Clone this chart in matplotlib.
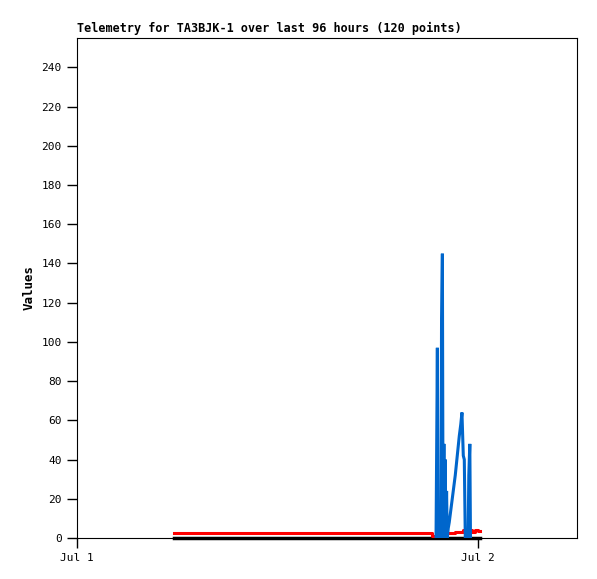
import numpy as np
import matplotlib
matplotlib.use("Agg")
import matplotlib.pyplot as plt

# time in hours since Jul 1 00:00
black_t = [5.8, 24.1]
black_v = [0, 0]

red_t = [5.8, 21.1, 21.2, 21.4, 21.5, 22.5, 22.6, 23.0, 23.1, 23.4, 23.6, 23.8, 24.0, 24.1]
red_v = [2.7, 2.7, 1.2, 1.2, 2.7, 2.7, 3.2, 3.2, 3.9, 3.9, 3.2, 3.9, 3.4, 3.4]

blue_t = [21.47, 21.51, 21.55, 21.59, 21.76, 21.80, 21.85, 21.89, 21.94, 21.98,
          22.02, 22.06, 22.10, 22.14, 22.20, 22.26, 22.38, 22.50, 22.62, 22.74,
          22.86, 22.95, 23.02, 23.10, 23.16, 23.22, 23.31, 23.39, 23.43, 23.49, 23.53]
blue_v = [0, 48, 97, 0, 0, 112, 145, 0, 48, 0,
          40, 0, 24, 0, 5, 8, 16, 24, 32, 42,
          52, 58, 64, 42, 40, 0, 0, 0, 32, 48, 0]

fig = plt.figure(figsize=(5.97, 5.79), dpi=100)
ax = fig.add_axes([0.129, 0.0708, 0.8375, 0.8636])

ax.plot(black_t, black_v, color="black", lw=2.5, clip_on=False, zorder=3)
ax.plot(red_t, red_v, color="#ff0000", lw=2.2, drawstyle="steps-post", zorder=3)
ax.plot(blue_t, blue_v, color="#0066cc", lw=2.2, zorder=4,
        solid_joinstyle="bevel", solid_capstyle="butt")

ax.set_xlim(0, 29.9)
ax.set_ylim(0, 255)
ax.set_yticks(range(0, 241, 20))
ax.set_xticks([0, 24])
ax.set_xticklabels(["Jul 1", "Jul 2"])
ax.tick_params(direction="out", length=7, width=1, labelsize=8, pad=4)
for lab in ax.get_xticklabels() + ax.get_yticklabels():
    lab.set_family("DejaVu Sans Mono")

ax.set_ylabel("Values", family="DejaVu Sans Mono", fontweight="bold", fontsize=9)
ax.set_title("Telemetry for TA3BJK-1 over last 96 hours (120 points)",
             loc="left", family="DejaVu Sans Mono", fontweight="bold", fontsize=8.5, pad=4)

fig.savefig("out.png", dpi=100)
